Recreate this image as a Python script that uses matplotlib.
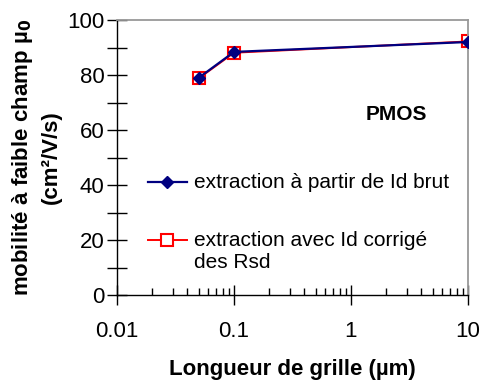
import matplotlib
matplotlib.use("Agg")
import matplotlib.pyplot as plt
from matplotlib.ticker import LogLocator, MultipleLocator, FixedLocator

plt.rcParams['font.family'] = ['Liberation Sans', 'DejaVu Sans']

# gate length (um) and low field mobility (cm2/V/s)
length = [0.05, 0.1, 10]
mu_raw = [79.0, 88.4, 92.0]
mu_corr = [78.8, 88.1, 92.2]

label_raw = "extraction à partir de Id brut"
label_corr = "extraction avec Id corrigé"

fig = plt.figure(figsize=(4.8, 3.81), dpi=100)
ax = fig.add_axes([117/480, 1 - 295/381, 351/480, 275/381])

ax.plot(length, mu_raw, color='#000080', lw=1.6, marker='D', markersize=6,
        markerfacecolor='#000080', markeredgecolor='#000080', zorder=3)
ax.plot(length, mu_corr, color='#ff0000', lw=1.4, marker='s', markersize=9,
        markerfacecolor='none', markeredgecolor='#ff0000', markeredgewidth=1.5,
        zorder=2)

ax.set_xscale('log')
ax.set_xlim(0.01, 10)
ax.set_ylim(0, 100)
ax.xaxis.set_major_locator(FixedLocator([0.01, 0.1, 1, 10]))
ax.xaxis.set_minor_locator(LogLocator(base=10, subs=range(2, 10)))
ax.set_xticklabels(['0.01', '0.1', '1', '10'])
ax.yaxis.set_major_locator(MultipleLocator(20))
ax.yaxis.set_minor_locator(MultipleLocator(10))

ax.tick_params(axis='both', which='major', direction='inout', length=14, width=1,
               labelsize=16)
ax.tick_params(axis='x', which='major', pad=12)
ax.tick_params(axis='y', which='major', pad=2)
ax.tick_params(axis='y', which='minor', direction='inout', length=14, width=1)
ax.tick_params(axis='x', which='minor', direction='in', length=5, width=1)

for s in ['top', 'right']:
    ax.spines[s].set_color('#999999')
    ax.spines[s].set_linewidth(1.3)
for s in ['left', 'bottom']:
    ax.spines[s].set_color('black')
    ax.spines[s].set_linewidth(1.0)

ax.set_xlabel("Longueur de grille (µm)", fontsize=16, fontweight='bold', labelpad=12)
ax.set_ylabel("mobilité à faible champ µ$_{\\mathbf{0}}$\n(cm²/V/s)", fontsize=16,
              fontweight='bold', linespacing=1.35, labelpad=4)

ax.text(0.795, 0.655, "PMOS", transform=ax.transAxes, fontsize=15,
        fontweight='bold', ha='center', va='center')

# legend drawn manually inside the axes
lx0, lx1, tx = 0.087, 0.20, 0.22
ax.plot([lx0, lx1], [0.41, 0.41], transform=ax.transAxes, color='#000080', lw=1.6,
        clip_on=False)
ax.plot([(lx0 + lx1) / 2], [0.41], transform=ax.transAxes, marker='D', markersize=6,
        color='#000080', clip_on=False)
ax.text(tx, 0.41, label_raw, transform=ax.transAxes, fontsize=15, va='center')
ax.plot([lx0, lx1], [0.20, 0.20], transform=ax.transAxes, color='#ff0000', lw=1.4,
        clip_on=False)
ax.plot([(lx0 + lx1) / 2], [0.20], transform=ax.transAxes, marker='s', markersize=9,
        markerfacecolor='white', markeredgecolor='#ff0000', markeredgewidth=1.5,
        clip_on=False)
ax.text(tx, 0.20, label_corr, transform=ax.transAxes, fontsize=15, va='center')
ax.text(tx, 0.12, "des Rsd", transform=ax.transAxes, fontsize=15, va='center')

fig.savefig("out.png", dpi=100)
